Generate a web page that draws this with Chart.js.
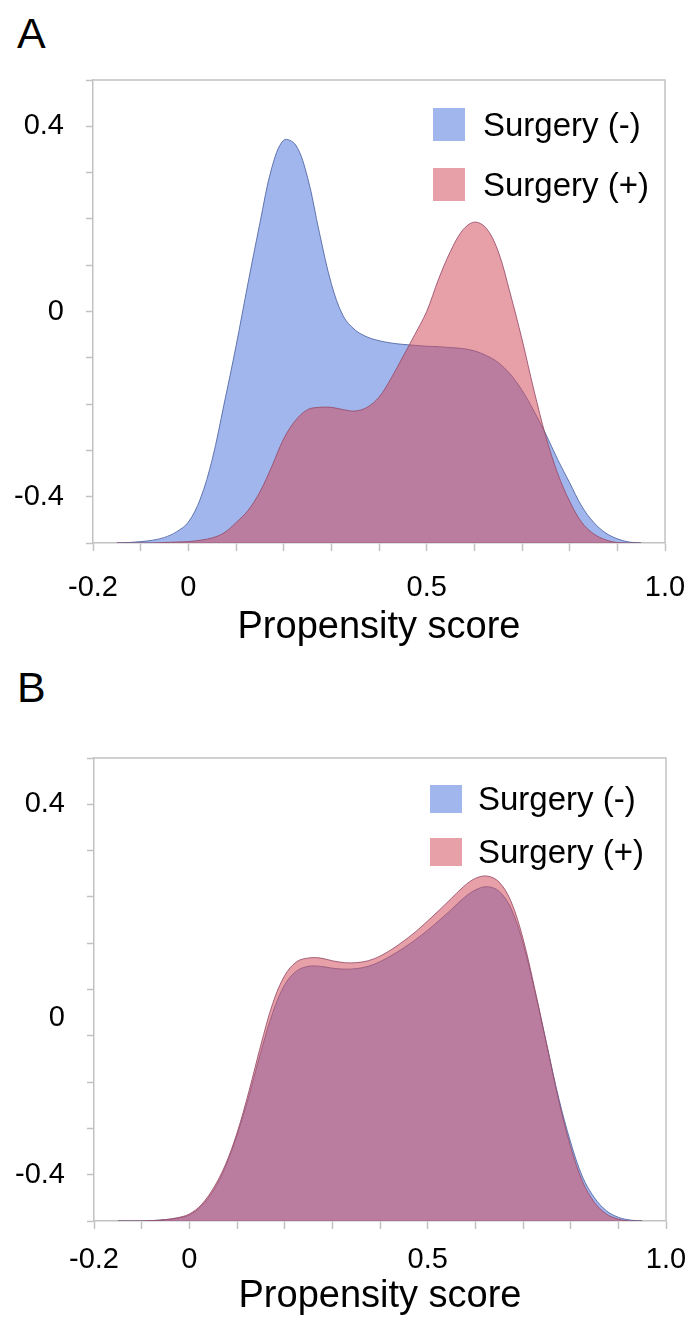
<!DOCTYPE html>
<html>
<head>
<meta charset="utf-8">
<script src="https://cdn.jsdelivr.net/npm/chart.js@4/dist/chart.umd.min.js"></script>
<style>
  html, body { margin:0; padding:0; background:#fff; }
  body { width:691px; height:1320px; position:relative; overflow:hidden; font-family:"Liberation Sans", Arial, sans-serif; }
  .panel { position:absolute; left:0; width:691px; height:660px; }
  .letter { position:absolute; left:17px; font-size:43px; color:#000; line-height:1; }
  .leg { position:absolute; font-size:33px; color:#000; line-height:1; white-space:nowrap; }
  .sw { position:absolute; }
</style>
</head>
<body>
<div class="letter" style="top:12px;">A</div>
<div class="letter" style="top:666px;">B</div>
<div class="panel" style="top:0;"><canvas id="cA" width="691" height="660"></canvas></div>
<div class="panel" style="top:660px;"><canvas id="cB" width="691" height="660"></canvas></div>
<div id="legends"></div>
<script>
// ---- data ----
const seriesNames = ["Surgery (-)", "Surgery (+)"];
const xValues = [-0.15,-0.125,-0.1,-0.075,-0.05,-0.025,0,0.025,0.05,0.075,0.1,0.125,0.15,0.175,0.2,0.225,0.25,0.275,0.3,0.325,0.35,0.375,0.4,0.425,0.45,0.475,0.5,0.525,0.55,0.575,0.6,0.625,0.65,0.675,0.7,0.725,0.75,0.775,0.8,0.825,0.85,0.875,0.9,0.925,0.95];
// Panel A (before matching)
const surgeryNegA = [-0.5,-0.499,-0.497,-0.494,-0.488,-0.476,-0.455,-0.405,-0.32,-0.2,-0.075,0.06,0.19,0.31,0.37,0.36,0.29,0.17,0.06,-0.01,-0.04,-0.055,-0.063,-0.068,-0.071,-0.073,-0.075,-0.076,-0.078,-0.08,-0.085,-0.095,-0.11,-0.135,-0.17,-0.215,-0.265,-0.32,-0.37,-0.42,-0.455,-0.478,-0.491,-0.498,-0.5];
const surgeryPosA = [-0.5,-0.5,-0.5,-0.5,-0.499,-0.498,-0.497,-0.494,-0.489,-0.478,-0.456,-0.43,-0.39,-0.335,-0.275,-0.235,-0.212,-0.207,-0.207,-0.212,-0.215,-0.207,-0.185,-0.145,-0.098,-0.05,0.0,0.07,0.13,0.175,0.193,0.18,0.13,0.04,-0.06,-0.17,-0.27,-0.35,-0.41,-0.455,-0.48,-0.493,-0.499,-0.5,-0.5];
// Panel B (after matching)
const surgeryNegB = [-0.5,-0.5,-0.5,-0.499,-0.497,-0.494,-0.487,-0.468,-0.435,-0.385,-0.315,-0.23,-0.135,-0.05,0.01,0.04,0.05,0.05,0.046,0.044,0.045,0.05,0.06,0.074,0.09,0.108,0.128,0.15,0.173,0.197,0.215,0.222,0.212,0.175,0.1,-0.005,-0.12,-0.235,-0.33,-0.405,-0.45,-0.478,-0.492,-0.498,-0.5];
const surgeryPosB = [-0.5,-0.5,-0.5,-0.499,-0.497,-0.493,-0.485,-0.465,-0.43,-0.38,-0.31,-0.22,-0.12,-0.03,0.03,0.06,0.068,0.068,0.062,0.058,0.058,0.062,0.072,0.087,0.105,0.125,0.148,0.172,0.197,0.222,0.24,0.245,0.232,0.19,0.11,0.0,-0.12,-0.24,-0.34,-0.415,-0.46,-0.485,-0.496,-0.5,-0.5];
const xTickLabels = { "-2": "-0.2", "0": "0", "5": "0.5", "10": "1.0" };
const yTickLabels = { "4": "0.4", "0": "0", "-4": "-0.4" };

// ---- styles ----
const fills = ["rgba(65,110,220,0.5)", "rgba(211,76,91,0.53)"];
const lines = ["rgba(85,105,165,0.9)", "rgba(150,75,105,0.85)"];
const axisGray = "#c2c2c2";
const FONT = "'Liberation Sans', Arial, sans-serif";

const boxPlugin = {
  id: "box",
  afterDraw(chart) {
    const a = chart.chartArea, ctx = chart.ctx;
    ctx.save();
    ctx.strokeStyle = axisGray; ctx.lineWidth = 1.5;
    ctx.beginPath();
    ctx.moveTo(a.left, a.top); ctx.lineTo(a.right, a.top); ctx.lineTo(a.right, a.bottom);
    ctx.stroke();
    ctx.restore();
  }
};

function makeChart(id, neg, pos, geom) {
  const mk = (arr) => xValues.map((x, i) => ({ x: x, y: arr[i] }));
  return new Chart(document.getElementById(id), {
    type: "line",
    data: {
      datasets: [
        { label: seriesNames[0], data: mk(neg), backgroundColor: fills[0], borderColor: lines[0], borderWidth: 1, fill: "start", pointRadius: 0, tension: 0.35, order: 2 },
        { label: seriesNames[1], data: mk(pos), backgroundColor: fills[1], borderColor: lines[1], borderWidth: 1, fill: "start", pointRadius: 0, tension: 0.35, order: 1 }
      ]
    },
    options: {
      responsive: false, animation: false, devicePixelRatio: 1,
      layout: { padding: { top: geom.top, right: geom.right, left: 0, bottom: 0 } },
      plugins: { legend: { display: false }, tooltip: { enabled: false } },
      scales: {
        x: {
          type: "linear", min: -0.2, max: 1.0,
          ticks: { stepSize: 0.1, autoSkip: false, maxRotation: 0, padding: geom.xPad, color: "#000",
                   font: { family: FONT, size: 29 },
                   callback: (v) => { const k = String(Math.round(v * 10)); return xTickLabels[k] !== undefined ? xTickLabels[k] : ""; } },
          grid: { drawOnChartArea: false, drawTicks: true, tickLength: 8, tickColor: axisGray, tickWidth: 1.5 },
          border: { display: true, color: axisGray, width: 1.5 },
          title: { display: true, text: "Propensity score", color: "#000", font: { family: FONT, size: 38 }, padding: { top: 0, bottom: geom.titleBottom } },
          afterFit: (s) => { s.height = geom.xH; s.paddingLeft = 0; s.paddingRight = 0; }
        },
        y: {
          type: "linear", min: -0.5, max: 0.5,
          ticks: { stepSize: 0.1, autoSkip: false, padding: 22, color: "#000",
                   font: (c) => ({ family: FONT, size: 29, lineHeight: (geom.zeroShift && c.tick && Math.round(c.tick.value * 10) === 0) ? (2 * geom.zeroShift) + "px" : 1.2 }),
                   callback: (v) => {
                     const k = String(Math.round(v * 10));
                     if (yTickLabels[k] === undefined) return "";
                     if (k === "0" && geom.zeroShift) return ["", yTickLabels[k]];
                     return yTickLabels[k];
                   } },
          grid: { drawOnChartArea: false, drawTicks: true, tickLength: 7, tickColor: axisGray, tickWidth: 1.5 },
          border: { display: true, color: axisGray, width: 1.5 },
          afterFit: (s) => { s.width = geom.yW; s.paddingTop = 0; s.paddingBottom = 0; }
        }
      }
    },
    plugins: [boxPlugin]
  });
}

makeChart("cA", surgeryNegA, surgeryPosA, { top: 80, right: 26, xH: 117, yW: 93, xPad: 20, titleBottom: 10, zeroShift: 0 });
makeChart("cB", surgeryNegB, surgeryPosB, { top: 98, right: 25, xH: 99, yW: 94, xPad: 14, titleBottom: 1, zeroShift: 28 });

// ---- legends (HTML, built from series names / colours) ----
const legendPos = [
  { sx: 433, sy: [108, 168], sw: 32, sh: 33, tx: 483 },
  { sx: 430, sy: [785, 838], sw: 32, sh: 28, tx: 478 }
];
const legHost = document.getElementById("legends");
legendPos.forEach((p) => {
  seriesNames.forEach((name, i) => {
    const sq = document.createElement("div");
    sq.className = "sw";
    sq.style.cssText = `left:${p.sx}px;top:${p.sy[i]}px;width:${p.sw}px;height:${p.sh}px;background:${fills[i]};`;
    legHost.appendChild(sq);
    const t = document.createElement("div");
    t.className = "leg";
    t.textContent = name;
    t.style.left = p.tx + "px";
    t.style.top = (p.sy[i] + p.sh / 2 - 17) + "px";
    legHost.appendChild(t);
  });
});
</script>
</body>
</html>
